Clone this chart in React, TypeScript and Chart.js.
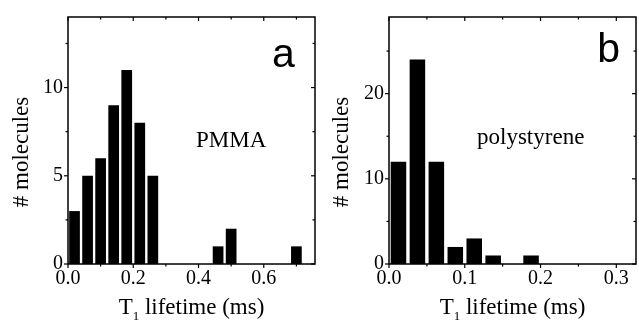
import React, { useEffect, useRef } from "react";
import { Chart, registerables } from "chart.js";

Chart.register(...registerables);

// Panel a: PMMA
const aCenters = [0.02, 0.06, 0.1, 0.14, 0.18, 0.22, 0.26, 0.46, 0.5, 0.7];
const aCounts = [3, 5, 6, 9, 11, 8, 5, 1, 2, 1];
const aXTicks = [0, 0.2, 0.4, 0.6];
const aXMinor = [0.1, 0.3, 0.5, 0.7];
const aYTicks = [0, 5, 10];
const aYMinor = [2.5, 7.5, 12.5];

// Panel b: polystyrene
const bCenters = [0.0125, 0.0375, 0.0625, 0.0875, 0.1125, 0.1375, 0.1875];
const bCounts = [12, 24, 12, 2, 3, 1, 1];
const bXTicks = [0, 0.1, 0.2, 0.3];
const bXMinor = [0.05, 0.15, 0.25];
const bYTicks = [0, 10, 20];
const bYMinor = [5, 15, 25];

const SERIF = "'Liberation Serif', 'Times New Roman', serif";
const SANS = "'Liberation Sans', Arial, sans-serif";

type PanelCfg = {
  centers: number[];
  counts: number[];
  xMax: number;
  yMax: number;
  xTicks: number[];
  xMinor: number[];
  yTicks: number[];
  yMinor: number[];
  letter: string;
  letterPos: [number, number];
  label: string;
  labelPos: [number, number];
  labelSize: number;
  padTop: number;
  padRight: number;
  yWidth: number;
};

function makeChart(canvas: HTMLCanvasElement, p: PanelCfg) {
  const framePlugin = {
    id: "frame",
    afterDraw(chart: any) {
      const ctx = chart.ctx;
      const ca = chart.chartArea;
      const xs = chart.scales.x;
      const ys = chart.scales.y;
      ctx.save();
      ctx.strokeStyle = "#000";
      ctx.lineWidth = 1.5;
      ctx.strokeRect(ca.left, ca.top, ca.right - ca.left, ca.bottom - ca.top);
      ctx.lineWidth = 1.2;
      const line = (x1: number, y1: number, x2: number, y2: number) => {
        ctx.beginPath();
        ctx.moveTo(x1, y1);
        ctx.lineTo(x2, y2);
        ctx.stroke();
      };
      const major = 4;
      const minor = 2.5;
      p.xTicks.forEach((v) => {
        const px = xs.getPixelForValue(v);
        line(px, ca.bottom, px, ca.bottom + major);
        line(px, ca.top, px, ca.top + major);
      });
      p.xMinor.forEach((v) => {
        const px = xs.getPixelForValue(v);
        line(px, ca.bottom, px, ca.bottom + minor);
        line(px, ca.top, px, ca.top + minor);
      });
      p.yTicks.forEach((v) => {
        const py = ys.getPixelForValue(v);
        line(ca.left - major, py, ca.left, py);
        line(ca.right - major, py, ca.right, py);
      });
      p.yMinor.forEach((v) => {
        const py = ys.getPixelForValue(v);
        line(ca.left - minor, py, ca.left, py);
        line(ca.right - minor, py, ca.right, py);
      });

      // panel letter
      ctx.fillStyle = "#000";
      ctx.textAlign = "center";
      ctx.textBaseline = "middle";
      ctx.font = `41px ${SANS}`;
      ctx.fillText(p.letter, xs.getPixelForValue(p.letterPos[0]), ys.getPixelForValue(p.letterPos[1]));
      // material label
      ctx.font = `${p.labelSize}px ${SERIF}`;
      ctx.fillText(p.label, xs.getPixelForValue(p.labelPos[0]), ys.getPixelForValue(p.labelPos[1]));

      // y title
      ctx.save();
      ctx.translate(22, 152);
      ctx.rotate(-Math.PI / 2);
      ctx.font = `23px ${SERIF}`;
      ctx.fillText("# molecules", 0, 0);
      ctx.restore();

      // x title with subscript
      const cx = (ca.left + ca.right) / 2;
      const base = 314;
      ctx.font = `23px ${SERIF}`;
      const wT = ctx.measureText("T").width;
      const rest = " lifetime (ms)";
      const wR = ctx.measureText(rest).width;
      ctx.font = `13px ${SERIF}`;
      const w1 = ctx.measureText("1").width;
      const total = wT + w1 + wR;
      const x0 = cx - total / 2;
      ctx.textAlign = "left";
      ctx.textBaseline = "alphabetic";
      ctx.font = `23px ${SERIF}`;
      ctx.fillText("T", x0, base);
      ctx.font = `13px ${SERIF}`;
      ctx.fillText("1", x0 + wT, base + 6);
      ctx.font = `23px ${SERIF}`;
      ctx.fillText(rest, x0 + wT + w1, base);
      ctx.restore();
    },
  };

  return new Chart(canvas, {
    type: "bar",
    data: {
      datasets: [
        {
          data: p.centers.map((x, i) => ({ x, y: p.counts[i] })),
          backgroundColor: "#000",
          borderWidth: 0,
          barPercentage: 0.82,
          categoryPercentage: 1,
        },
      ],
    },
    options: {
      responsive: false,
      animation: false,
      devicePixelRatio: 1,
      layout: { padding: { top: p.padTop, right: p.padRight, left: 0, bottom: 0 } },
      plugins: { legend: { display: false }, tooltip: { enabled: false } },
      scales: {
        x: {
          type: "linear",
          position: "bottom",
          min: 0,
          max: p.xMax,
          offset: false,
          grid: { display: false, drawTicks: false, offset: false },
          border: { display: false },
          afterBuildTicks: (s: any) => {
            s.ticks = p.xTicks.map((v) => ({ value: v }));
          },
          afterFit: (s: any) => {
            s.height = 60;
          },
          ticks: {
            color: "#000",
            font: { family: SERIF, size: 20 },
            padding: 3,
            maxRotation: 0,
            autoSkip: false,
            callback: (v: any) => Number(v).toFixed(1),
          },
        },
        y: {
          type: "linear",
          position: "left",
          min: 0,
          max: p.yMax,
          grid: { display: false, drawTicks: false },
          border: { display: false },
          afterBuildTicks: (s: any) => {
            s.ticks = p.yTicks.map((v) => ({ value: v }));
          },
          afterFit: (s: any) => {
            s.width = p.yWidth;
          },
          ticks: {
            color: "#000",
            font: { family: SERIF, size: 20 },
            padding: 5,
            callback: (v: any) => String(v),
          },
        },
      },
    },
    plugins: [framePlugin],
  } as any);
}

const panelA: PanelCfg = {
  centers: aCenters,
  counts: aCounts,
  xMax: 0.757,
  yMax: 14,
  xTicks: aXTicks,
  xMinor: aXMinor,
  yTicks: aYTicks,
  yMinor: aYMinor,
  letter: "a",
  letterPos: [0.66, 11.8],
  label: "PMMA",
  labelPos: [0.5, 7],
  labelSize: 23,
  padTop: 13,
  padRight: 5,
  yWidth: 68,
};

const panelB: PanelCfg = {
  centers: bCenters,
  counts: bCounts,
  xMax: 0.326,
  yMax: 29,
  xTicks: bXTicks,
  xMinor: bXMinor,
  yTicks: bYTicks,
  yMinor: bYMinor,
  letter: "b",
  letterPos: [0.29, 25],
  label: "polystyrene",
  labelPos: [0.187, 14.8],
  labelSize: 23,
  padTop: 14,
  padRight: 3,
  yWidth: 69,
};

function Panel({ cfg, width }: { cfg: PanelCfg; width: number }) {
  const ref = useRef<HTMLCanvasElement>(null);
  useEffect(() => {
    if (!ref.current) return;
    const c = makeChart(ref.current, cfg);
    return () => c.destroy();
  }, [cfg]);
  return <canvas ref={ref} width={width} height={324} style={{ display: "block", width, height: 324 }} />;
}

export default function App() {
  return (
    <div
      style={{
        position: "fixed",
        left: 0,
        top: 0,
        width: 639,
        height: 324,
        background: "#fff",
        display: "flex",
      }}
    >
      <Panel cfg={panelA} width={320} />
      <Panel cfg={panelB} width={319} />
    </div>
  );
}
